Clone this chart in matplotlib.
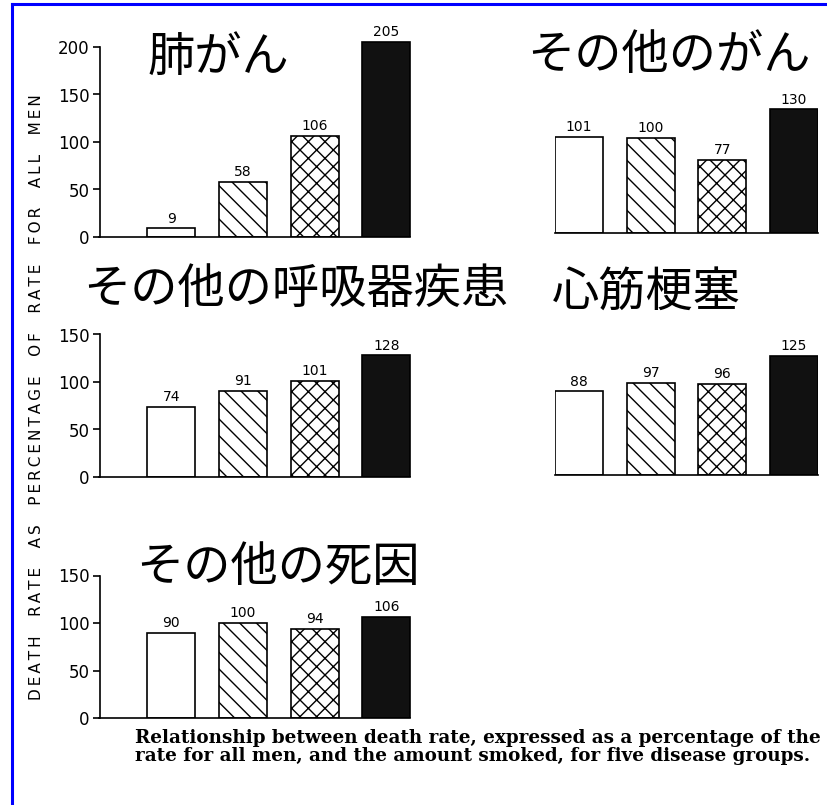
import matplotlib
matplotlib.use("Agg")
import matplotlib.pyplot as plt
from matplotlib.lines import Line2D

plt.rcParams['font.family'] = ['Noto Sans CJK JP', 'DejaVu Sans']
plt.rcParams['hatch.linewidth'] = 1.0

# ---- data (death rate as % of rate for all men) ----
amount_smoked = ['0', '1-14', '15-24', '25+']
lung_cancer = [9, 58, 106, 205]
other_cancer = [101, 100, 77, 130]
other_resp = [74, 91, 101, 128]
coronary = [88, 97, 96, 125]
other_causes = [90, 100, 94, 106]

titles = ['肺がん', 'その他のがん', 'その他の呼吸器疾患', '心筋梗塞', 'その他の死因']
ylabel_words = ['DEATH', 'RATE', 'AS', 'PERCENTAGE', 'OF', 'RATE', 'FOR', 'ALL', 'MEN']
caption = ('Relationship between death rate, expressed as a percentage of the\n'
           'rate for all men, and the amount smoked, for five disease groups.')

hatches = ['', '\\\\', 'xx', '']
faces = ['white', 'white', 'white', '#111111']

W, H = 827, 805
UNIT = 71.7      # px per bar slot
SCALE = 0.95     # px per percent


def px_axes(fig, left, base, xlo, xhi, ymax):
    width = (xhi - xlo) * UNIT
    height = ymax * SCALE
    ax = fig.add_axes([left / W, (H - base) / H, width / W, height / H])
    ax.set_xlim(xlo, xhi)
    ax.set_ylim(0, ymax)
    return ax


def draw_panel(ax, values, yticks=None):
    x = list(range(len(values)))
    bars = ax.bar(x, values, width=0.67, color=faces, edgecolor='black',
                  linewidth=1.2)
    for patch, h in zip(bars, hatches):
        patch.set_hatch(h)
    for xi, v in zip(x, values):
        ax.text(xi, v + 3, str(v), ha='center', va='bottom',
                fontsize=10, family='DejaVu Sans')
    for s in ['top', 'right']:
        ax.spines[s].set_visible(False)
    ax.spines['bottom'].set_linewidth(1.2)
    ax.spines['bottom'].set_bounds(ax.get_xlim()[0], 3.335)
    ax.set_xticks([])
    ax.patch.set_alpha(0)
    if yticks is None:
        ax.spines['left'].set_visible(False)
        ax.set_yticks([])
    else:
        ax.spines['left'].set_linewidth(1.2)
        ax.spines['left'].set_bounds(0, yticks[-1])
        ax.set_yticks(yticks)
        ax.set_yticklabels([str(t) for t in yticks], family='DejaVu Sans',
                           fontsize=12)
        ax.tick_params(axis='y', length=5, width=1.2, pad=2)


fig = plt.figure(figsize=(W / 100, H / 100), dpi=100)

panels = [
    (99.5, 237, -1.0, lung_cancer, [0, 50, 100, 150, 200], 215),
    (554.5, 233, -0.34, other_cancer, None, 140),
    (99.5, 477, -1.0, other_resp, [0, 50, 100, 150], 155),
    (554.5, 475, -0.34, coronary, None, 135),
    (99.5, 718, -1.0, other_causes, [0, 50, 100, 150], 155),
]
for left, base, xlo, vals, ticks, ymax in panels:
    ax = px_axes(fig, left, base, xlo, 3.34, ymax)
    draw_panel(ax, vals, ticks)

# Japanese panel titles (centre positions in px)
title_pos = [(218, 58), (669, 56), (296, 290), (646, 292), (278, 568)]
for t, (tx, ty) in zip(titles, title_pos):
    fig.text(tx / W, 1 - ty / H, t, ha='center', va='center', fontsize=34,
             family=['Noto Sans CJK JP', 'DejaVu Sans'])

# letter-spaced vertical axis label
ylabel = '    '.join('\u2009'.join(w) for w in ylabel_words)
fig.text(37 / W, 1 - 397 / H, ylabel, rotation=90, ha='center', va='center',
         fontsize=11, family='DejaVu Sans')

fig.text(135 / W, 1 - 729 / H, caption, ha='left', va='top', fontsize=13.2,
         family='DejaVu Serif', weight='bold', linespacing=1.0)

# blue frame (left and top edges)
fig.add_artist(Line2D([11.5 / W, 11.5 / W], [0, 1 - 4.5 / H], color='#0000ff',
                      lw=2.2, transform=fig.transFigure))
fig.add_artist(Line2D([11.5 / W, 1], [1 - 4.5 / H, 1 - 4.5 / H], color='#0000ff',
                      lw=2.2, transform=fig.transFigure))

fig.savefig('out.png', dpi=100)
